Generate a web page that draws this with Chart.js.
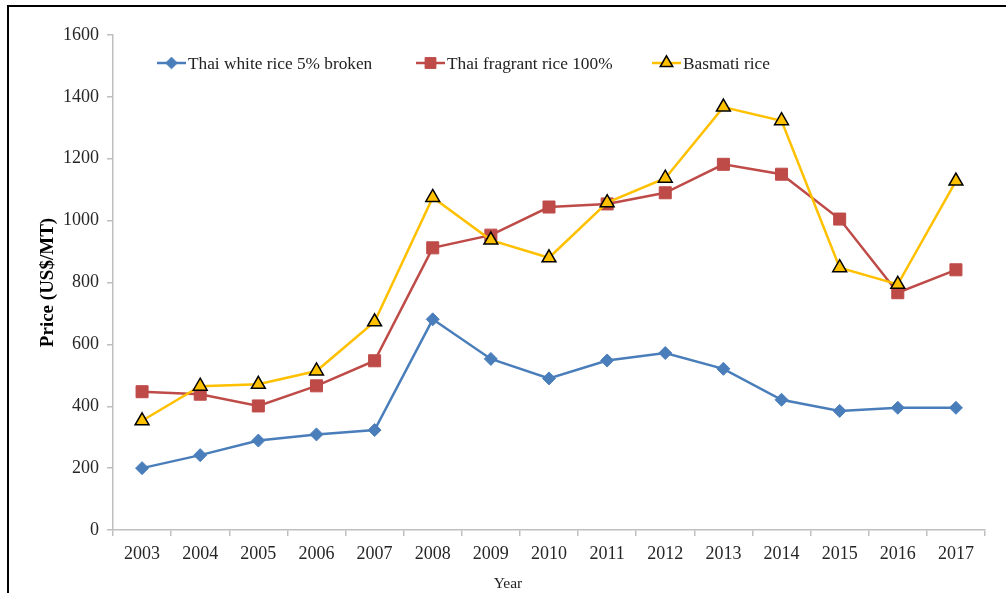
<!DOCTYPE html>
<html>
<head>
<meta charset="utf-8">
<script src="https://cdn.jsdelivr.net/npm/chart.js@4"></script>
<style>
  html, body { margin: 0; padding: 0; background: #fff; }
  #wrap { position: relative; width: 1006px; height: 593px; overflow: hidden; }
  #frame { position: absolute; left: 7px; top: 5px; right: 0; bottom: 0; border-left: 2px solid #000; border-top: 2px solid #000; }
  canvas { position: absolute; left: 0; top: 0; }
</style>
</head>
<body>
<div id="wrap">
  <div id="frame"></div>
  <canvas id="chart" width="1006" height="593"></canvas>
</div>
<script>
// Rice export prices, US$/MT
const years = ['2003', '2004', '2005', '2006', '2007', '2008', '2009', '2010', '2011', '2012', '2013', '2014', '2015', '2016', '2017'];
const thaiWhite = [200, 242, 289, 309, 323, 681, 553, 490, 548, 572, 521, 421, 385, 395, 395];
const thaiFragrant = [447, 439, 401, 466, 547, 912, 953, 1044, 1054, 1090, 1182, 1150, 1005, 767, 841];
const basmati = [353, 465, 471, 514, 673, 1075, 937, 880, 1058, 1137, 1367, 1323, 848, 794, 1128];
const seriesNames = ['Thai white rice 5% broken', 'Thai fragrant rice 100%', 'Basmati rice'];
const yMin = 0, yMax = 1600, yStep = 200;

const SERIF = '"Liberation Serif", "Times New Roman", serif';
const AXIS_GREY = '#bfbfbf';

// legend drawn inside the plot, each entry = short line + marker + text
const insideLegend = {
  id: 'insideLegend',
  afterDraw(chart) {
    const ctx = chart.ctx;
    const starts = [157, 416, 652];
    const y = 63;
    ctx.save();
    chart.data.datasets.forEach((ds, i) => {
      const x0 = starts[i];
      ctx.strokeStyle = ds.borderColor;
      ctx.lineWidth = ds.borderWidth;
      ctx.beginPath();
      ctx.moveTo(x0, y);
      ctx.lineTo(x0 + 29, y);
      ctx.stroke();
      ctx.fillStyle = ds.pointBackgroundColor;
      ctx.strokeStyle = ds.pointBorderColor;
      ctx.lineWidth = ds.pointBorderWidth;
      Chart.helpers.drawPoint(ctx, {
        pointStyle: ds.pointStyle,
        radius: ds.pointRadius * 0.9,
        borderWidth: ds.pointBorderWidth,
        rotation: 0
      }, x0 + 14.5, y);
      ctx.fillStyle = '#222';
      ctx.font = '17.3px ' + SERIF;
      ctx.textBaseline = 'alphabetic';
      ctx.textAlign = 'left';
      ctx.fillText(ds.label, x0 + 31, 69);
    });
    // x axis title sits a little left of centre in the original
    ctx.fillStyle = '#222';
    ctx.font = '15.5px ' + SERIF;
    ctx.textAlign = 'center';
    ctx.fillText('Year', 508, 588);
    ctx.restore();
  }
};

new Chart(document.getElementById('chart'), {
  type: 'line',
  data: {
    labels: years,
    datasets: [
      {
        label: seriesNames[0],
        data: thaiWhite,
        borderColor: '#4a7ebb',
        backgroundColor: '#4a7ebb',
        borderWidth: 2.5,
        pointStyle: 'rectRot',
        pointRadius: 6.5,
        pointBackgroundColor: '#4a7ebb',
        pointBorderColor: '#4a7ebb',
        pointBorderWidth: 1,
        order: 2
      },
      {
        label: seriesNames[1],
        data: thaiFragrant,
        borderColor: '#be4b48',
        backgroundColor: '#be4b48',
        borderWidth: 2.5,
        pointStyle: 'rect',
        pointRadius: 8.5,
        pointBackgroundColor: '#be4b48',
        pointBorderColor: '#be4b48',
        pointBorderWidth: 1,
        order: 1
      },
      {
        label: seriesNames[2],
        data: basmati,
        borderColor: '#ffc000',
        backgroundColor: '#ffc000',
        borderWidth: 2.5,
        pointStyle: 'triangle',
        pointRadius: 8,
        pointBackgroundColor: '#ffc000',
        pointBorderColor: '#000000',
        pointBorderWidth: 1.5,
        order: 0
      }
    ]
  },
  options: {
    responsive: false,
    animation: false,
    devicePixelRatio: 1,
    layout: { padding: { top: 35, right: 21, left: 0, bottom: 0 } },
    elements: { line: { tension: 0 } },
    plugins: {
      legend: { display: false },
      tooltip: { enabled: false }
    },
    scales: {
      x: {
        type: 'category',
        offset: true,
        afterFit(scale) { scale.height = 63; },
        grid: {
          display: true,
          offset: true,
          drawOnChartArea: false,
          drawTicks: true,
          tickLength: 6,
          color: AXIS_GREY,
          lineWidth: 1.5
        },
        border: { display: true, color: AXIS_GREY, width: 1.5 },
        ticks: {
          autoSkip: false,
          maxRotation: 0,
          padding: 7,
          color: '#262626',
          font: { family: SERIF, size: 18 }
        }
      },
      y: {
        min: yMin,
        max: yMax,
        afterFit(scale) { scale.width = 113; },
        grid: {
          display: true,
          drawOnChartArea: false,
          drawTicks: true,
          tickLength: 6,
          color: AXIS_GREY,
          lineWidth: 1.5
        },
        border: { display: true, color: AXIS_GREY, width: 1.5 },
        ticks: {
          stepSize: yStep,
          padding: 8,
          color: '#262626',
          font: { family: SERIF, size: 18 },
          callback: (value) => String(value)
        },
        title: {
          display: true,
          text: 'Price (US$/MT)',
          color: '#000',
          padding: { top: 37, bottom: 0 },
          font: { family: SERIF, size: 19, weight: 'bold' }
        }
      }
    }
  },
  plugins: [insideLegend]
});
</script>
</body>
</html>
